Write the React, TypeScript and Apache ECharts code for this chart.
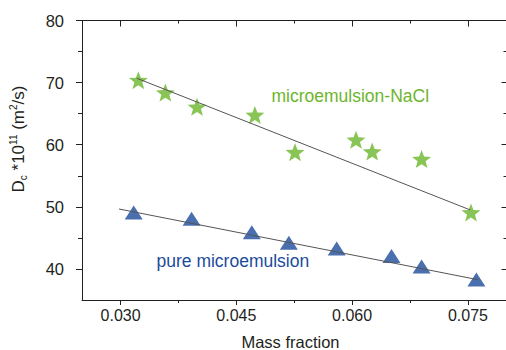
import React, { useEffect, useRef } from "react";
import * as echarts from "echarts";

// Data
const naclMass = [0.0323, 0.0358, 0.0399, 0.0474, 0.0526, 0.0605, 0.0626, 0.069, 0.0754];
const naclDc = [70.4, 68.4, 66.1, 64.8, 58.8, 60.8, 58.9, 57.7, 49.1];
const pureMass = [0.0317, 0.0392, 0.047, 0.0518, 0.058, 0.0651, 0.069, 0.0761];
const pureDc = [49.1, 48.1, 45.9, 44.2, 43.3, 42.1, 40.4, 38.3];
const naclFitMass = [0.0321, 0.0753];
const naclFitDc = [70.7, 49.5];
const pureFitMass = [0.0298, 0.0763];
const pureFitDc = [49.65, 38.27];

const xMajorTicks = [0.03, 0.045, 0.06, 0.075];
const xMinorTicks = [0.0375, 0.0525, 0.0675];
const yMajorTicks = [40, 50, 60, 70, 80];
const yMinorTicks = [45, 55, 65, 75];

const X_MIN = 0.025;
const X_MAX = 0.08;
const Y_MIN = 35;
const Y_MAX = 80;

const GREEN = "#6cb52d";
const BLUE = "#1c4b9b";
const INK = "#231f20";
const FONT = "'Liberation Sans', Arial, sans-serif";

const STAR =
  "path://M50,0L62.34,33.01L97.55,34.55L69.97,56.49L79.39,90.45L50,71L20.61,90.45L30.03,56.49L2.45,34.55L37.66,33.01Z";

function zip(a: number[], b: number[]) {
  return a.map((v, i) => [v, b[i]]);
}

function xAxisDef(position: "top" | "bottom", ticks: number[], len: number, inside: boolean, labels: boolean, line: boolean) {
  return {
    type: "value",
    position,
    min: X_MIN,
    max: X_MAX,
    axisLine: { show: line, onZero: false, lineStyle: { color: INK, width: 1 } },
    axisTick: { show: true, customValues: ticks, length: len, inside, lineStyle: { color: INK, width: 1 } },
    axisLabel: {
      show: labels,
      customValues: ticks,
      formatter: (v: number) => v.toFixed(3),
      fontSize: 16,
      fontFamily: FONT,
      color: INK,
      margin: 7,
    },
    splitLine: { show: false },
  };
}

function yAxisDef(position: "left" | "right", ticks: number[], len: number, inside: boolean, labels: boolean, line: boolean) {
  return {
    type: "value",
    position,
    min: Y_MIN,
    max: Y_MAX,
    axisLine: { show: line, onZero: false, lineStyle: { color: INK, width: 1 } },
    axisTick: { show: true, customValues: ticks, length: len, inside, lineStyle: { color: INK, width: 1 } },
    axisLabel: {
      show: labels,
      customValues: ticks,
      fontSize: 16.5,
      fontFamily: FONT,
      color: INK,
      margin: 18,
    },
    splitLine: { show: false },
  };
}

export default function App() {
  const ref = useRef<HTMLDivElement>(null);

  useEffect(() => {
    if (!ref.current) return;
    const chart = echarts.init(ref.current, null, { renderer: "svg" });
    chart.setOption({
      animation: false,
      backgroundColor: "#ffffff",
      grid: { left: 82, top: 20.5, right: 1.5, bottom: 50, containLabel: false, outerBoundsMode: "none" },
      xAxis: [
        xAxisDef("bottom", xMajorTicks, 5, false, true, true),
        xAxisDef("bottom", xMinorTicks, 3, false, false, false),
        xAxisDef("top", xMajorTicks, 6, true, false, true),
        xAxisDef("top", xMinorTicks, 3, true, false, false),
      ],
      yAxis: [
        yAxisDef("left", yMajorTicks, 6, false, true, true),
        yAxisDef("left", yMinorTicks, 4, false, false, false),
        yAxisDef("right", yMajorTicks, 5, true, false, true),
        yAxisDef("right", yMinorTicks, 3, true, false, false),
      ],
      series: [
        {
          type: "scatter",
          data: zip(naclMass, naclDc),
          symbol: STAR,
          symbolSize: [19, 18],
          itemStyle: { color: GREEN },
          z: 2,
          silent: true,
        },
        {
          type: "scatter",
          data: zip(pureMass, pureDc),
          symbol: "triangle",
          symbolSize: [18, 14],
          itemStyle: { color: BLUE },
          z: 2,
          silent: true,
        },
        {
          type: "line",
          data: zip(naclFitMass, naclFitDc),
          showSymbol: false,
          symbol: "none",
          lineStyle: { color: "#555555", width: 1 },
          z: 3,
          silent: true,
        },
        {
          type: "line",
          data: zip(pureFitMass, pureFitDc),
          showSymbol: false,
          symbol: "none",
          lineStyle: { color: "#555555", width: 1 },
          z: 3,
          silent: true,
        },
      ],
      graphic: [
        {
          type: "text",
          left: 271.5,
          top: 87,
          style: { text: "microemulsion-NaCl", fill: GREEN, fontSize: 17.5, fontFamily: FONT },
        },
        {
          type: "text",
          left: 156.5,
          top: 252,
          style: { text: "pure microemulsion", fill: BLUE, fontSize: 17.5, fontFamily: FONT },
        },
        {
          type: "text",
          x: 290.5,
          y: 342,
          style: {
            text: "Mass fraction",
            fill: INK,
            fontSize: 16.5,
            fontFamily: FONT,
            align: "center",
            verticalAlign: "middle",
          },
        },
        {
          type: "text",
          x: 18,
          y: 139,
          rotation: Math.PI / 2,
          style: {
            text: "{a|D}{b|c}{a| *10}{c|11}{a| (m}{c|2}{a|/s)}",
            align: "center",
            verticalAlign: "middle",
            fill: INK,
            fontFamily: FONT,
            rich: {
              a: { fontSize: 17, fontFamily: FONT, fill: INK, lineHeight: 20, verticalAlign: "middle" },
              b: { fontSize: 10, fontFamily: FONT, fill: INK, lineHeight: 20, verticalAlign: "bottom" },
              c: { fontSize: 10, fontFamily: FONT, fill: INK, lineHeight: 20, verticalAlign: "top" },
            },
          },
        },
      ],
    });
    return () => chart.dispose();
  }, []);

  return (
    <div style={{ position: "fixed", left: 0, top: 0, width: 506, height: 350, overflow: "hidden", background: "#fff" }}>
      <div ref={ref} style={{ width: 508, height: 350 }} />
    </div>
  );
}
